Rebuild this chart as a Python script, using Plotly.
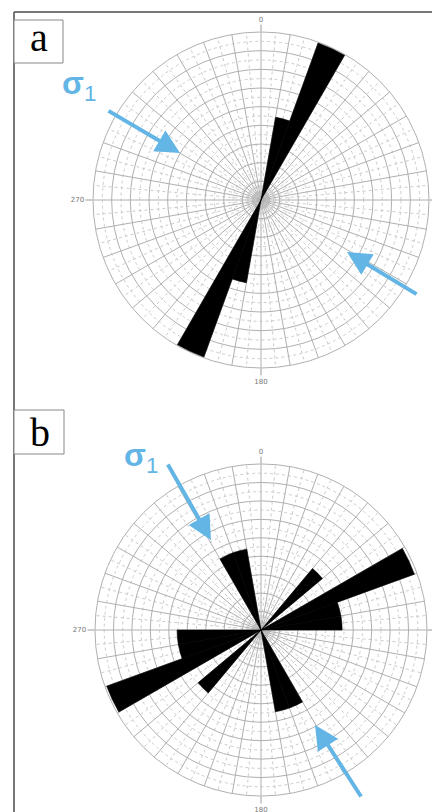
import plotly.graph_objects as go

# page body has an 8px margin, so the figure is drawn 8px smaller and offset
OFF = 8
W, H = 440 - OFF, 812 - OFF

# ---- data (rose diagrams, 10-degree bins, bidirectional) ----
a_bin_start = [10, 20, 190, 200]
a_values = [4.5, 8.95, 4.5, 8.95]

b_bin_start = [40, 60, 70, 80, 150, 160, 220, 240, 250, 260, 330, 340]
b_values = [4.35, 8.85, 4.4, 4.4, 4.5, 4.5, 4.45, 8.9, 4.55, 4.55, 4.45, 4.45]

bin_width = 10
r_max = 9
ring_steps = list(range(1, 10))
dir_labels = ["0", "90", "180", "270"]
dir_values = [0, 90, 180, 270]

def px(x):
    return (x - OFF) / W

def py(y):
    return 1 - (y - OFF) / H

fig = go.Figure()

def add_rose(prefix_idx, starts, values, dom_x, dom_y):
    # three stacked polars: dashed grid, labels, solid grid + bars
    pa, pb, pc = [f"polar{i}" if i > 1 else "polar" for i in prefix_idx]
    centers = [s + bin_width / 2 for s in starts]
    fig.add_trace(go.Barpolar(
        r=values, theta=centers, width=[bin_width] * len(values),
        marker=dict(color="black", line=dict(color="black", width=0.6)),
        subplot=pc, showlegend=False, hoverinfo="skip"))
    for p in (pa, pb):
        fig.add_trace(go.Scatterpolar(r=[0], theta=[0], mode="markers",
                                      marker=dict(size=1, opacity=0),
                                      subplot=p, showlegend=False, hoverinfo="skip"))
    common_dom = dict(x=dom_x, y=dom_y)
    fig.layout[pa] = dict(
        domain=common_dom, bgcolor="white", bargap=0,
        radialaxis=dict(range=[0, r_max], tickvals=[s - 0.5 for s in ring_steps],
                        showticklabels=False, ticks="", showline=False,
                        gridcolor="#cccccc", griddash="dot", gridwidth=1),
        angularaxis=dict(rotation=90, direction="clockwise",
                         tickvals=list(range(5, 360, 10)), showticklabels=False,
                         ticks="", showline=False,
                         gridcolor="#cccccc", griddash="dot", gridwidth=1))
    fig.layout[pb] = dict(
        domain=common_dom, bgcolor="rgba(0,0,0,0)",
        radialaxis=dict(range=[0, r_max], showgrid=False, showticklabels=False,
                        ticks="", showline=False),
        angularaxis=dict(rotation=90, direction="clockwise",
                         tickvals=dir_values, ticktext=dir_labels,
                         ticks="outside", ticklen=7, tickcolor="#9a9a9a",
                         tickfont=dict(size=7, color="#777", family="DejaVu Sans"),
                         showgrid=False, showline=False))
    fig.layout[pc] = dict(
        domain=common_dom, bgcolor="rgba(0,0,0,0)", bargap=0,
        radialaxis=dict(range=[0, r_max], tickvals=ring_steps,
                        showticklabels=False, ticks="", showline=False,
                        gridcolor="#b0b0b0", gridwidth=1, layer="below traces"),
        angularaxis=dict(rotation=90, direction="clockwise",
                         tickvals=list(range(0, 360, 10)), showticklabels=False,
                         ticks="", showline=True, linecolor="#b0b0b0", linewidth=1,
                         gridcolor="#b0b0b0", gridwidth=1, layer="below traces"))

# panel a: center (261,200), R=168 (reference pixels)
add_rose([1, 2, 3], a_bin_start, a_values,
         [px(93), px(429)], [py(368), py(32)])
# panel b: center (261,630), R=166
add_rose([4, 5, 6], b_bin_start, b_values,
         [px(95), px(427)], [py(796), py(464)])

shapes = [
    dict(type="line", xref="paper", yref="paper", x0=px(14), x1=px(440), y0=py(12), y1=py(12),
         line=dict(color="#4a4a4a", width=1.5)),
    dict(type="line", xref="paper", yref="paper", x0=px(14), x1=px(14), y0=py(12), y1=py(812),
         line=dict(color="#4a4a4a", width=1.5)),
    dict(type="rect", xref="paper", yref="paper", x0=px(14), x1=px(63), y0=py(63), y1=py(20),
         line=dict(color="#888", width=1), fillcolor="white"),
    dict(type="rect", xref="paper", yref="paper", x0=px(14), x1=px(64), y0=py(454), y1=py(410),
         line=dict(color="#888", width=1), fillcolor="white"),
]

blue = "#62b5e5"
ann = [
    dict(text="a", x=px(39), y=py(38), xref="paper", yref="paper", showarrow=False,
         xanchor="center", yanchor="middle",
         font=dict(family="Liberation Serif", size=40, color="black")),
    dict(text="b", x=px(40), y=py(432), xref="paper", yref="paper", showarrow=False,
         xanchor="center", yanchor="middle",
         font=dict(family="Liberation Serif", size=40, color="black")),
    dict(text="<b>σ</b><sub>1</sub>", x=px(79), y=py(85), xref="paper", yref="paper",
         showarrow=False, xanchor="center", yanchor="middle",
         font=dict(family="Liberation Sans", size=32, color=blue)),
    dict(text="<b>σ</b><sub>1</sub>", x=px(141), y=py(458), xref="paper", yref="paper",
         showarrow=False, xanchor="center", yanchor="middle",
         font=dict(family="Liberation Sans", size=32, color=blue)),
]
arrows = [((180, 153), (107, 110)), ((347, 252), (418, 295)),
          ((211, 540), (167, 463)), ((315, 725), (362, 798))]
for (tx, ty), (sx, sy) in arrows:
    ann.append(dict(text="", x=px(tx), y=py(ty), xref="paper", yref="paper",
                    showarrow=True, ax=sx - tx, ay=sy - ty, arrowhead=2,
                    arrowsize=1.2, arrowwidth=4, arrowcolor=blue))

fig.update_layout(width=W, height=H, margin=dict(l=0, r=0, t=0, b=0),
                  paper_bgcolor="white", plot_bgcolor="white",
                  shapes=shapes, annotations=ann, showlegend=False)

fig.write_html("out.html")
